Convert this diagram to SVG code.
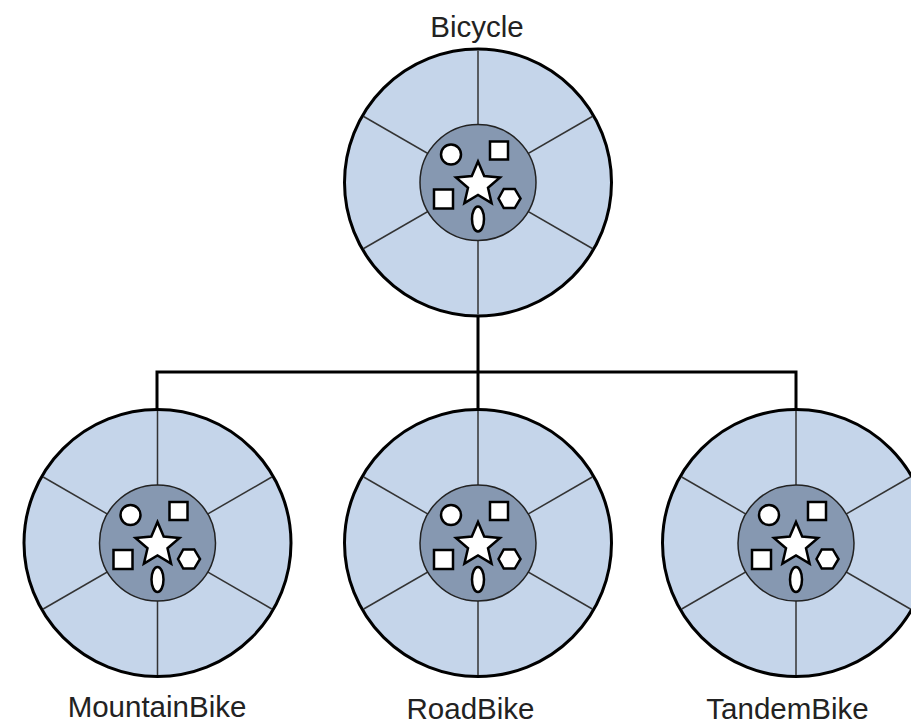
<svg xmlns="http://www.w3.org/2000/svg" xmlns:xlink="http://www.w3.org/1999/xlink" width="911" height="724" viewBox="0 0 911 724">
<style>
.outer{fill:#c5d5ea;stroke:#000;stroke-width:3}
.spoke{stroke:#333;stroke-width:1.5;fill:none}
.inner{fill:#8698b1;stroke:#222;stroke-width:1.5}
.shape{fill:#fff;stroke:#000;stroke-width:2.5}
.conn{fill:none;stroke:#000;stroke-width:3}
.label{font-family:"Liberation Sans",Arial,sans-serif;font-size:29.5px;fill:#222;text-anchor:middle}
</style>
<defs>
<g id="wheel">
<circle class="outer" cx="0" cy="0" r="133.5"/>
<line class="spoke" x1="0" y1="-132" x2="0" y2="132"/>
<line class="spoke" x1="-114.3" y1="-66" x2="114.3" y2="66"/>
<line class="spoke" x1="-114.3" y1="66" x2="114.3" y2="-66"/>
<circle class="inner" cx="0" cy="0" r="58"/>
<circle class="shape" cx="-27" cy="-28" r="10"/>
<rect class="shape" x="12" y="-41" width="18" height="18"/>
<rect class="shape" x="-44" y="7" width="19" height="19"/>
<polygon class="shape" points="0,-21 6.2,-6.5 22,-5 10,5.3 13.6,20.6 0,12.5 -13.6,20.6 -10,5.3 -22,-5 -6.2,-6.5"/>
<polygon class="shape" points="42.5,16 36.75,25.6 25.75,25.6 20.5,16 25.75,6.4 36.75,6.4"/>
<ellipse class="shape" cx="0" cy="36.5" rx="6" ry="12.5"/>
</g>
</defs>
<g id="connectors">
<path class="conn" d="M478,316 V372 M157,409 V372 H796 V409 M478,372 V409"/>
</g>
<g id="Bicycle">
<use xlink:href="#wheel" transform="translate(478,182.5)"/>
<text class="label" x="477" y="37">Bicycle</text>
</g>
<g id="MountainBike">
<use xlink:href="#wheel" transform="translate(157.5,543)"/>
<text class="label" x="157" y="717">MountainBike</text>
</g>
<g id="RoadBike">
<use xlink:href="#wheel" transform="translate(478,543)"/>
<text class="label" x="470.5" y="719">RoadBike</text>
</g>
<g id="TandemBike">
<use xlink:href="#wheel" transform="translate(796,543)"/>
<text class="label" x="787.5" y="719">TandemBike</text>
</g>
</svg>
